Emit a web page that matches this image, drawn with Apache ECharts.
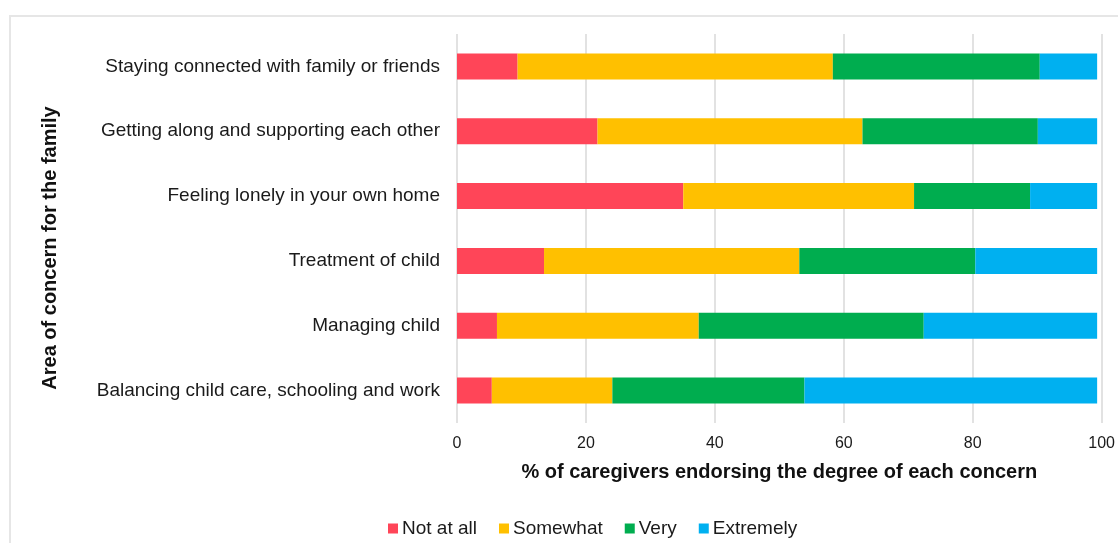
<!DOCTYPE html>
<html>
<head>
<meta charset="utf-8">
<script src="https://cdn.jsdelivr.net/npm/echarts@6/dist/echarts.min.js"></script>
<style>
  html, body { margin: 0; padding: 0; background: #fff; }
  #frame { position: absolute; left: 9px; top: 15px; width: 1200px; height: 600px; border: 2px solid #e6e6e6; box-sizing: border-box; }
  #chart { position: absolute; left: 0; top: 0; width: 1118px; height: 543px; }
</style>
</head>
<body>
<div id="frame"></div>
<div id="chart"></div>
<script>
// Areas of family concern, listed top to bottom
const categories = [
  'Staying connected with family or friends',
  'Getting along and supporting each other',
  'Feeling lonely in your own home',
  'Treatment of child',
  'Managing child',
  'Balancing child care, schooling and work'
];
// Percentage of caregivers per degree of concern (same order as categories)
const notAtAll  = [9.4, 21.8, 35.1, 13.5, 6.2, 5.4];
const somewhat  = [48.9, 41.1, 35.8, 39.6, 31.3, 18.7];
const very      = [32.1, 27.2, 18.0, 27.3, 34.9, 29.8];
const extremely = [8.9, 9.2, 10.4, 18.9, 26.9, 45.4];
const xTicks = [0, 20, 40, 60, 80, 100];

const seriesDefs = [
  { name: 'Not at all', data: notAtAll,  color: '#ff4558' },
  { name: 'Somewhat',   data: somewhat,  color: '#ffc000' },
  { name: 'Very',       data: very,      color: '#00ad4f' },
  { name: 'Extremely',  data: extremely, color: '#00b0f0' }
];

const font = '"Liberation Sans", Arial, sans-serif';
const chart = echarts.init(document.getElementById('chart'), null, { renderer: 'canvas' });

chart.setOption({
  animation: false,
  textStyle: { fontFamily: font },
  grid: { left: 457, right: 16, top: 34, bottom: 120, containLabel: false },
  xAxis: {
    type: 'value',
    min: xTicks[0],
    max: xTicks[xTicks.length - 1],
    interval: 20,
    axisLine: { show: false },
    axisTick: { show: false },
    splitLine: { show: true, lineStyle: { color: '#d9d9d9', width: 1.5 } },
    axisLabel: { color: '#1a1a1a', fontSize: 16, margin: 13, fontFamily: font },
    name: '% of caregivers endorsing the degree of each concern',
    nameLocation: 'middle',
    nameGap: 39,
    nameTextStyle: { color: '#111', fontSize: 20, fontWeight: 'bold', fontFamily: font }
  },
  yAxis: {
    type: 'category',
    inverse: true,
    data: categories,
    axisLine: { show: false },
    axisTick: { show: false },
    axisLabel: { color: '#1a1a1a', fontSize: 19, margin: 17, fontFamily: font, padding: [3, 0, 0, 0] }
  },
  legend: {
    bottom: 0,
    left: 383,
    itemWidth: 10,
    itemHeight: 10,
    itemGap: 22,
    icon: 'rect',
    textStyle: { color: '#1a1a1a', fontSize: 19, fontFamily: font, padding: [0, 0, 0, -1] },
    data: seriesDefs.map(s => s.name)
  },
  graphic: [{
    type: 'text',
    x: 50,
    y: 248,
    rotation: Math.PI / 2,
    style: {
      text: 'Area of concern for the family',
      fontSize: 20,
      fontWeight: 'bold',
      fontFamily: font,
      fill: '#111',
      align: 'center',
      verticalAlign: 'middle'
    }
  }],
  series: seriesDefs.map(s => ({
    name: s.name,
    type: 'bar',
    stack: 'total',
    data: s.data,
    barWidth: 26,
    itemStyle: { color: s.color }
  }))
});
</script>
</body>
</html>
